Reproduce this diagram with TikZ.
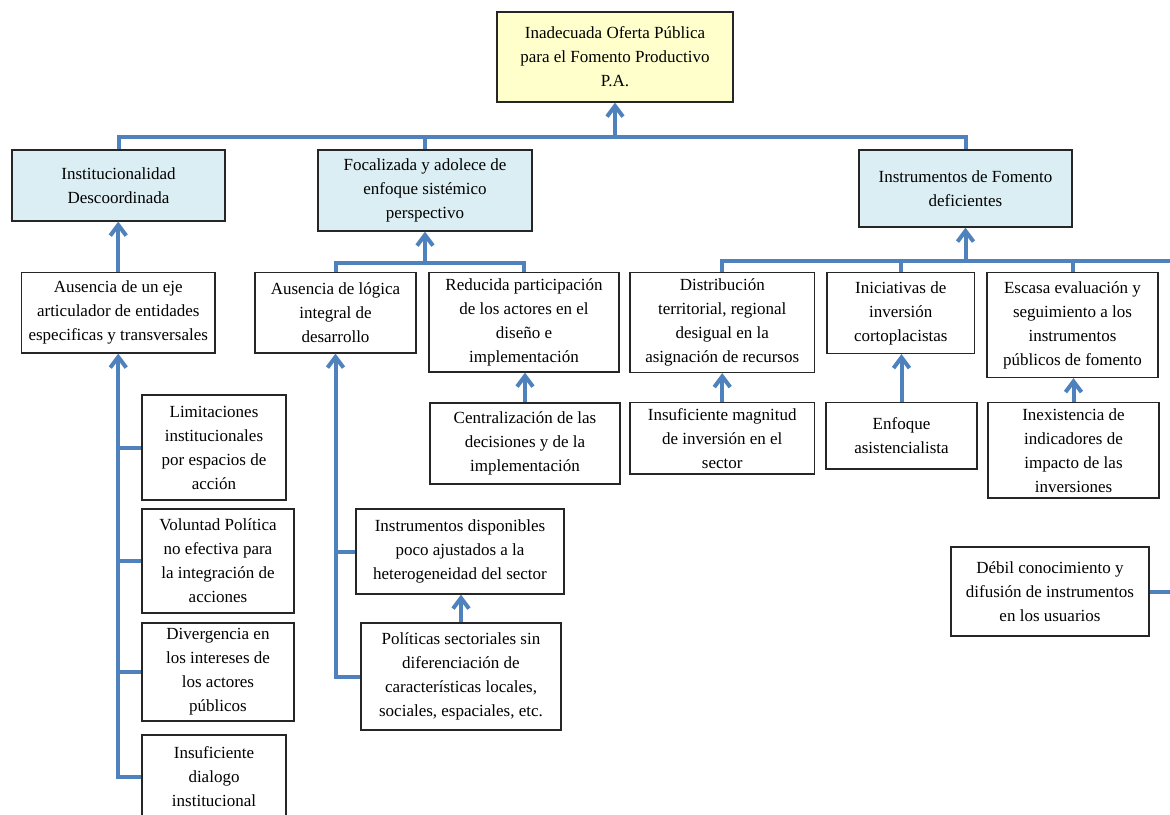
\documentclass[tikz,border=0pt]{standalone}
\usepackage{fontspec}
\setmainfont{Liberation Serif}
\usetikzlibrary{arrows.meta}
\definecolor{cblue}{RGB}{79,129,189}
\definecolor{cyel}{RGB}{255,255,204}
\definecolor{clblue}{RGB}{219,238,243}
\begin{document}
\begin{tikzpicture}[x=0.75pt,y=-0.75pt,
  box/.style={draw=black!85,line width=0.9pt,fill=white,align=center,inner sep=0pt,
              font=\fontsize{12.75}{18}\selectfont},
  sz/.style 2 args={minimum width=#1*0.75pt,minimum height=#2*0.75pt},
  conn/.style={draw=cblue,line width=3pt},
  arr/.style={conn,-{Straight Barb[length=8pt,width=12pt]}}]
\useasboundingbox (0,0) rectangle (1170,814);
\clip (0,0) rectangle (1170,814);
\fill[white] (0,0) rectangle (1170,814);

% level 0
\node[box,fill=cyel,sz={236}{90}] (root) at (615,57) {Inadecuada Oferta Pública\\para el Fomento Productivo\\P.A.};
% level 1
\node[box,fill=clblue,sz={213}{71}] (inst) at (118.5,185.5) {Institucionalidad\\Descoordinada};
\node[box,fill=clblue,sz={214}{81}] (foc) at (425,190.5) {Focalizada y adolece de\\enfoque sistémico\\perspectivo};
\node[box,fill=clblue,sz={213}{77}] (instr) at (965.5,188.5) {Instrumentos de Fomento\\deficientes};
% level 2
\node[box,sz={193.5}{80.5}] (eje) at (118.25,312.75) {Ausencia de un eje\\articulador de entidades\\especificas y transversales};
\node[box,sz={161}{80.5}] (logica) at (335.5,312.75) {Ausencia de lógica\\integral de\\desarrollo};
\node[box,sz={190}{99.5}] (reducida) at (524,322.25) {Reducida participación\\de los actores en el\\diseño e\\implementación};
\node[box,sz={190}{81}] (centr) at (525,443.5) {Centralización de las\\decisiones y de la\\implementación};
\node[box,sz={184.5}{100}] (distrib) at (722.25,322.5) {Distribución\\territorial, regional\\desigual en la\\asignación de recursos};
\node[box,sz={184.5}{71.5}] (magnitud) at (722.25,438.25) {Insuficiente magnitud\\de inversión en el\\sector};
\node[box,sz={147.5}{81}] (inic) at (900.75,313) {Iniciativas de\\inversión\\cortoplacistas};
\node[box,sz={151}{66.5}] (enfoque) at (901.5,435.75) {Enfoque\\asistencialista};
\node[box,sz={171}{105}] (escasa) at (1072.5,325) {Escasa evaluación y\\seguimiento a los\\instrumentos\\públicos de fomento};
\node[box,sz={171}{95.5}] (inexist) at (1073.5,450.25) {Inexistencia de\\indicadores de\\impacto de las\\inversiones};
\node[box,sz={198}{89}] (debil) at (1050,591.5) {Débil conocimiento y\\difusión de instrumentos\\en los usuarios};
% left column
\node[box,sz={144}{105}] (limit) at (214,447.5) {Limitaciones\\institucionales\\por espacios de\\acción};
\node[box,sz={152}{104}] (volunt) at (218,561) {Voluntad Política\\no efectiva para\\la integración de\\acciones};
\node[box,sz={152}{98}] (diverg) at (218,672) {Divergencia en\\los intereses de\\los actores\\públicos};
\node[box,sz={144}{83}] (dialogo) at (214,776.5) {Insuficiente\\dialogo\\institucional};
% second column
\node[box,sz={208}{85}] (instdisp) at (460,551.5) {Instrumentos disponibles\\poco ajustados a la\\heterogeneidad del sector};
\node[box,sz={200}{107}] (polit) at (461,676.5) {Políticas sectoriales sin\\diferenciación de\\características locales,\\sociales, espaciales, etc.};

% junctions
\coordinate (j0) at (615,137);
\coordinate (j1) at (425,263);
\coordinate (j2) at (965.5,260.5);
\coordinate (redge1) at (1180,260.5);
\coordinate (redge2) at (1180,591.5);

% main tree
\draw[conn] (inst.north) -- (inst.north |- j0) -- (instr.north |- j0) -- (instr.north);
\draw[conn] (foc.north) -- (foc.north |- j0);
\draw[arr] (j0) -- (root.south);

% institucionalidad branch
\draw[arr] (eje.north) -- (eje.north |- inst.south);
\draw[arr] (dialogo.west) -- (eje.south |- dialogo.west) -- (eje.south);
\draw[conn] (limit.west) -- (eje.south |- limit.west);
\draw[conn] (volunt.west) -- (eje.south |- volunt.west);
\draw[conn] (diverg.west) -- (eje.south |- diverg.west);

% focalizada branch
\draw[conn] (logica.north) -- (logica.north |- j1) -- (reducida.north |- j1) -- (reducida.north);
\draw[arr] (j1) -- (foc.south);
\draw[arr] (centr.north) -- (centr.north |- reducida.south);
\draw[arr] (polit.west) -- (logica.south |- polit.west) -- (logica.south);
\draw[conn] (instdisp.west) -- (logica.south |- instdisp.west);
\draw[arr] (polit.north) -- (polit.north |- instdisp.south);

% instrumentos branch
\draw[conn] (distrib.north) -- (distrib.north |- j2) -- (redge1);
\draw[conn] (inic.north) -- (inic.north |- j2);
\draw[conn] (escasa.north) -- (escasa.north |- j2);
\draw[arr] (j2) -- (instr.south);
\draw[arr] (magnitud.north) -- (magnitud.north |- distrib.south);
\draw[arr] (enfoque.north) -- (enfoque.north |- inic.south);
\draw[arr] (inexist.north) -- (inexist.north |- escasa.south);
\draw[conn] (debil.east) -- (redge2);
\end{tikzpicture}
\end{document}
